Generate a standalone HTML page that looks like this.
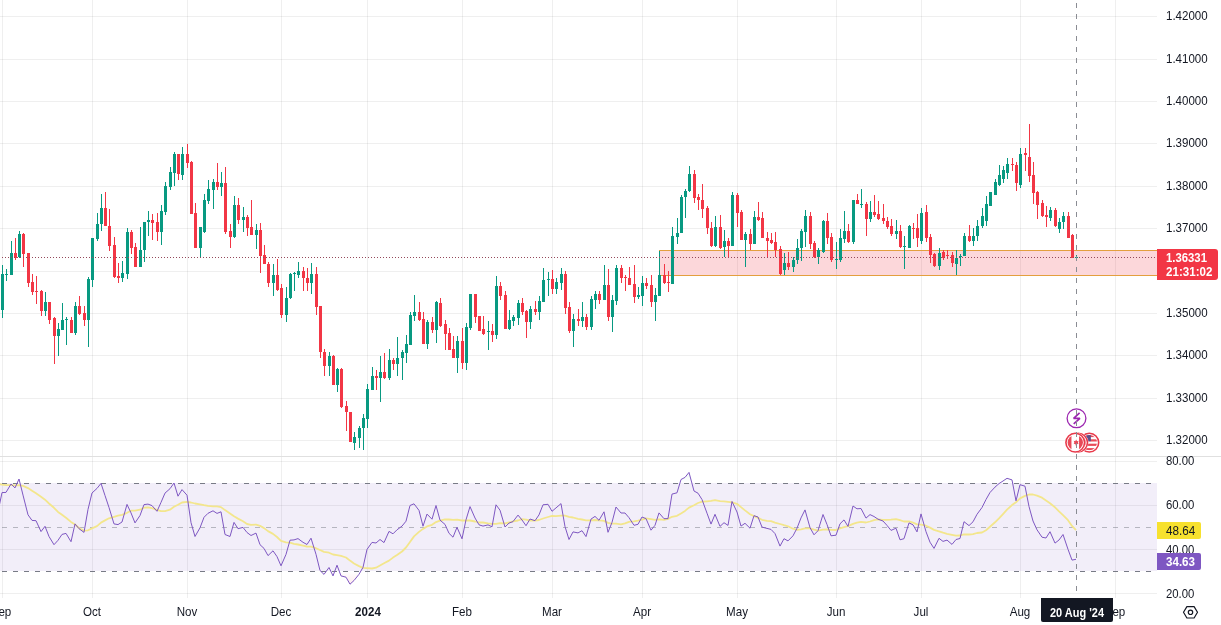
<!DOCTYPE html>
<html><head><meta charset="utf-8"><style>
html,body{margin:0;padding:0;background:#fff;}
#c{position:relative;width:1221px;height:625px;overflow:hidden;font-family:"Liberation Sans", Arial, sans-serif;}
#c svg{position:absolute;left:0;top:0;}
.t{position:absolute;white-space:nowrap;}
.w{color:#ffffff !important;}
.lab{position:absolute;}
.tl{position:absolute;top:604px;width:60px;text-align:center;font-size:11.5px;line-height:16px;color:#131722;white-space:nowrap;}
.b{font-weight:bold;}
</style></head><body><div id="c">
<svg width="1221" height="625" viewBox="0 0 1221 625" shape-rendering="crispEdges"><rect width="1221" height="625" fill="#ffffff"/><rect x="2" y="0" width="1" height="598" fill="rgba(0,0,0,0.062)"/><rect x="92" y="0" width="1" height="598" fill="rgba(0,0,0,0.062)"/><rect x="187" y="0" width="1" height="598" fill="rgba(0,0,0,0.062)"/><rect x="281" y="0" width="1" height="598" fill="rgba(0,0,0,0.062)"/><rect x="367" y="0" width="1" height="598" fill="rgba(0,0,0,0.062)"/><rect x="462" y="0" width="1" height="598" fill="rgba(0,0,0,0.062)"/><rect x="552" y="0" width="1" height="598" fill="rgba(0,0,0,0.062)"/><rect x="642" y="0" width="1" height="598" fill="rgba(0,0,0,0.062)"/><rect x="737" y="0" width="1" height="598" fill="rgba(0,0,0,0.062)"/><rect x="836" y="0" width="1" height="598" fill="rgba(0,0,0,0.062)"/><rect x="921" y="0" width="1" height="598" fill="rgba(0,0,0,0.062)"/><rect x="1020" y="0" width="1" height="598" fill="rgba(0,0,0,0.062)"/><rect x="1115" y="0" width="1" height="598" fill="rgba(0,0,0,0.062)"/><rect x="0" y="16" width="1157" height="1" fill="rgba(0,0,0,0.062)"/><rect x="0" y="59" width="1157" height="1" fill="rgba(0,0,0,0.062)"/><rect x="0" y="101" width="1157" height="1" fill="rgba(0,0,0,0.062)"/><rect x="0" y="143" width="1157" height="1" fill="rgba(0,0,0,0.062)"/><rect x="0" y="186" width="1157" height="1" fill="rgba(0,0,0,0.062)"/><rect x="0" y="228" width="1157" height="1" fill="rgba(0,0,0,0.062)"/><rect x="0" y="271" width="659" height="1" fill="rgba(0,0,0,0.062)"/><rect x="0" y="313" width="1157" height="1" fill="rgba(0,0,0,0.062)"/><rect x="0" y="355" width="1157" height="1" fill="rgba(0,0,0,0.062)"/><rect x="0" y="398" width="1157" height="1" fill="rgba(0,0,0,0.062)"/><rect x="0" y="440" width="1157" height="1" fill="rgba(0,0,0,0.062)"/><rect x="0" y="461" width="1157" height="1" fill="rgba(0,0,0,0.062)"/><rect x="0" y="505" width="1157" height="1" fill="rgba(0,0,0,0.062)"/><rect x="0" y="549" width="1157" height="1" fill="rgba(0,0,0,0.062)"/><rect x="0" y="593" width="1157" height="1" fill="rgba(0,0,0,0.062)"/><rect x="0" y="483" width="1157" height="88" fill="#7e57c2" fill-opacity="0.1"/><line x1="2" y1="483.5" x2="1157" y2="483.5" stroke="#787b86" stroke-opacity="1" stroke-width="1" stroke-dasharray="5 6"/><line x1="2" y1="527.5" x2="1157" y2="527.5" stroke="#787b86" stroke-opacity="0.5" stroke-width="1" stroke-dasharray="5 6"/><line x1="2" y1="571.5" x2="1157" y2="571.5" stroke="#787b86" stroke-opacity="1" stroke-width="1" stroke-dasharray="5 6"/><rect x="659.5" y="250.5" width="497.5" height="24.7" fill="#f23645" fill-opacity="0.2" stroke="#e39f3e" stroke-width="1"/><rect x="2" y="265" width="1" height="53" fill="#089981"/><rect x="1" y="274" width="3" height="36" fill="#089981"/><rect x="6" y="269" width="1" height="12" fill="#089981"/><rect x="5" y="274" width="3" height="1" fill="#089981"/><rect x="11" y="241" width="1" height="34" fill="#089981"/><rect x="10" y="253" width="3" height="22" fill="#089981"/><rect x="15" y="238" width="1" height="22" fill="#f23645"/><rect x="14" y="253" width="3" height="5" fill="#f23645"/><rect x="19" y="231" width="1" height="27" fill="#089981"/><rect x="18" y="234" width="3" height="23" fill="#089981"/><rect x="23" y="233" width="1" height="34" fill="#f23645"/><rect x="22" y="234" width="3" height="20" fill="#f23645"/><rect x="28" y="253" width="1" height="34" fill="#f23645"/><rect x="27" y="253" width="3" height="30" fill="#f23645"/><rect x="32" y="274" width="1" height="21" fill="#f23645"/><rect x="31" y="282" width="3" height="10" fill="#f23645"/><rect x="36" y="276" width="1" height="28" fill="#f23645"/><rect x="35" y="291" width="3" height="1" fill="#f23645"/><rect x="41" y="290" width="1" height="26" fill="#f23645"/><rect x="40" y="291" width="3" height="20" fill="#f23645"/><rect x="45" y="292" width="1" height="24" fill="#089981"/><rect x="44" y="302" width="3" height="9" fill="#089981"/><rect x="49" y="302" width="1" height="22" fill="#f23645"/><rect x="48" y="302" width="3" height="18" fill="#f23645"/><rect x="54" y="317" width="1" height="47" fill="#f23645"/><rect x="53" y="318" width="3" height="18" fill="#f23645"/><rect x="58" y="323" width="1" height="33" fill="#089981"/><rect x="57" y="329" width="3" height="7" fill="#089981"/><rect x="62" y="303" width="1" height="27" fill="#089981"/><rect x="61" y="320" width="3" height="10" fill="#089981"/><rect x="66" y="317" width="1" height="28" fill="#089981"/><rect x="65" y="319" width="3" height="1" fill="#089981"/><rect x="71" y="317" width="1" height="16" fill="#f23645"/><rect x="70" y="320" width="3" height="13" fill="#f23645"/><rect x="75" y="302" width="1" height="33" fill="#089981"/><rect x="74" y="306" width="3" height="27" fill="#089981"/><rect x="79" y="296" width="1" height="19" fill="#f23645"/><rect x="78" y="306" width="3" height="8" fill="#f23645"/><rect x="84" y="306" width="1" height="20" fill="#f23645"/><rect x="83" y="313" width="3" height="7" fill="#f23645"/><rect x="88" y="277" width="1" height="70" fill="#089981"/><rect x="87" y="279" width="3" height="41" fill="#089981"/><rect x="92" y="238" width="1" height="49" fill="#089981"/><rect x="91" y="238" width="3" height="42" fill="#089981"/><rect x="97" y="213" width="1" height="28" fill="#089981"/><rect x="96" y="224" width="3" height="15" fill="#089981"/><rect x="101" y="194" width="1" height="37" fill="#089981"/><rect x="100" y="208" width="3" height="16" fill="#089981"/><rect x="105" y="192" width="1" height="34" fill="#f23645"/><rect x="104" y="208" width="3" height="18" fill="#f23645"/><rect x="109" y="209" width="1" height="42" fill="#f23645"/><rect x="108" y="226" width="3" height="20" fill="#f23645"/><rect x="114" y="237" width="1" height="41" fill="#f23645"/><rect x="113" y="245" width="3" height="32" fill="#f23645"/><rect x="118" y="263" width="1" height="20" fill="#f23645"/><rect x="117" y="276" width="3" height="2" fill="#f23645"/><rect x="122" y="261" width="1" height="21" fill="#089981"/><rect x="121" y="273" width="3" height="5" fill="#089981"/><rect x="127" y="228" width="1" height="51" fill="#089981"/><rect x="126" y="232" width="3" height="42" fill="#089981"/><rect x="131" y="230" width="1" height="24" fill="#f23645"/><rect x="130" y="232" width="3" height="16" fill="#f23645"/><rect x="135" y="243" width="1" height="24" fill="#f23645"/><rect x="134" y="247" width="3" height="20" fill="#f23645"/><rect x="140" y="227" width="1" height="40" fill="#089981"/><rect x="139" y="250" width="3" height="17" fill="#089981"/><rect x="144" y="222" width="1" height="40" fill="#089981"/><rect x="143" y="222" width="3" height="28" fill="#089981"/><rect x="148" y="211" width="1" height="25" fill="#089981"/><rect x="147" y="220" width="3" height="2" fill="#089981"/><rect x="152" y="214" width="1" height="26" fill="#f23645"/><rect x="151" y="220" width="3" height="3" fill="#f23645"/><rect x="157" y="213" width="1" height="28" fill="#f23645"/><rect x="156" y="222" width="3" height="10" fill="#f23645"/><rect x="161" y="205" width="1" height="40" fill="#089981"/><rect x="160" y="211" width="3" height="21" fill="#089981"/><rect x="165" y="182" width="1" height="33" fill="#089981"/><rect x="164" y="186" width="3" height="26" fill="#089981"/><rect x="170" y="167" width="1" height="23" fill="#089981"/><rect x="169" y="172" width="3" height="15" fill="#089981"/><rect x="174" y="152" width="1" height="34" fill="#089981"/><rect x="173" y="154" width="3" height="19" fill="#089981"/><rect x="178" y="154" width="1" height="26" fill="#f23645"/><rect x="177" y="154" width="3" height="20" fill="#f23645"/><rect x="182" y="147" width="1" height="33" fill="#089981"/><rect x="181" y="154" width="3" height="21" fill="#089981"/><rect x="187" y="144" width="1" height="24" fill="#f23645"/><rect x="186" y="154" width="3" height="9" fill="#f23645"/><rect x="191" y="161" width="1" height="53" fill="#f23645"/><rect x="190" y="162" width="3" height="52" fill="#f23645"/><rect x="195" y="203" width="1" height="45" fill="#f23645"/><rect x="194" y="213" width="3" height="35" fill="#f23645"/><rect x="200" y="227" width="1" height="30" fill="#089981"/><rect x="199" y="227" width="3" height="21" fill="#089981"/><rect x="204" y="194" width="1" height="39" fill="#089981"/><rect x="203" y="200" width="3" height="32" fill="#089981"/><rect x="208" y="180" width="1" height="24" fill="#089981"/><rect x="207" y="189" width="3" height="12" fill="#089981"/><rect x="213" y="179" width="1" height="30" fill="#089981"/><rect x="212" y="182" width="3" height="8" fill="#089981"/><rect x="217" y="163" width="1" height="27" fill="#f23645"/><rect x="216" y="182" width="3" height="5" fill="#f23645"/><rect x="221" y="172" width="1" height="24" fill="#089981"/><rect x="220" y="183" width="3" height="4" fill="#089981"/><rect x="225" y="167" width="1" height="67" fill="#f23645"/><rect x="224" y="183" width="3" height="49" fill="#f23645"/><rect x="230" y="224" width="1" height="24" fill="#f23645"/><rect x="229" y="231" width="3" height="6" fill="#f23645"/><rect x="234" y="196" width="1" height="42" fill="#089981"/><rect x="233" y="205" width="3" height="32" fill="#089981"/><rect x="238" y="198" width="1" height="26" fill="#f23645"/><rect x="237" y="205" width="3" height="15" fill="#f23645"/><rect x="243" y="207" width="1" height="25" fill="#089981"/><rect x="242" y="217" width="3" height="3" fill="#089981"/><rect x="247" y="215" width="1" height="21" fill="#f23645"/><rect x="246" y="217" width="3" height="11" fill="#f23645"/><rect x="251" y="200" width="1" height="35" fill="#f23645"/><rect x="250" y="227" width="3" height="8" fill="#f23645"/><rect x="256" y="224" width="1" height="25" fill="#089981"/><rect x="255" y="230" width="3" height="5" fill="#089981"/><rect x="260" y="223" width="1" height="50" fill="#f23645"/><rect x="259" y="230" width="3" height="26" fill="#f23645"/><rect x="264" y="245" width="1" height="19" fill="#f23645"/><rect x="263" y="255" width="3" height="9" fill="#f23645"/><rect x="268" y="262" width="1" height="25" fill="#f23645"/><rect x="267" y="264" width="3" height="19" fill="#f23645"/><rect x="273" y="264" width="1" height="32" fill="#089981"/><rect x="272" y="275" width="3" height="8" fill="#089981"/><rect x="277" y="259" width="1" height="32" fill="#f23645"/><rect x="276" y="275" width="3" height="15" fill="#f23645"/><rect x="281" y="284" width="1" height="34" fill="#f23645"/><rect x="280" y="288" width="3" height="27" fill="#f23645"/><rect x="286" y="287" width="1" height="35" fill="#089981"/><rect x="285" y="298" width="3" height="17" fill="#089981"/><rect x="290" y="273" width="1" height="26" fill="#089981"/><rect x="289" y="274" width="3" height="24" fill="#089981"/><rect x="294" y="272" width="1" height="19" fill="#089981"/><rect x="293" y="273" width="3" height="1" fill="#089981"/><rect x="298" y="262" width="1" height="16" fill="#089981"/><rect x="297" y="271" width="3" height="4" fill="#089981"/><rect x="303" y="267" width="1" height="24" fill="#f23645"/><rect x="302" y="271" width="3" height="7" fill="#f23645"/><rect x="307" y="268" width="1" height="23" fill="#f23645"/><rect x="306" y="278" width="3" height="5" fill="#f23645"/><rect x="311" y="263" width="1" height="31" fill="#089981"/><rect x="310" y="274" width="3" height="9" fill="#089981"/><rect x="316" y="267" width="1" height="48" fill="#f23645"/><rect x="315" y="274" width="3" height="33" fill="#f23645"/><rect x="320" y="306" width="1" height="52" fill="#f23645"/><rect x="319" y="306" width="3" height="46" fill="#f23645"/><rect x="324" y="349" width="1" height="27" fill="#f23645"/><rect x="323" y="352" width="3" height="14" fill="#f23645"/><rect x="329" y="352" width="1" height="24" fill="#089981"/><rect x="328" y="356" width="3" height="10" fill="#089981"/><rect x="333" y="355" width="1" height="30" fill="#f23645"/><rect x="332" y="356" width="3" height="29" fill="#f23645"/><rect x="337" y="368" width="1" height="24" fill="#089981"/><rect x="336" y="369" width="3" height="16" fill="#089981"/><rect x="341" y="368" width="1" height="40" fill="#f23645"/><rect x="340" y="369" width="3" height="38" fill="#f23645"/><rect x="346" y="401" width="1" height="30" fill="#f23645"/><rect x="345" y="406" width="3" height="6" fill="#f23645"/><rect x="350" y="412" width="1" height="30" fill="#f23645"/><rect x="349" y="412" width="3" height="30" fill="#f23645"/><rect x="354" y="432" width="1" height="18" fill="#089981"/><rect x="353" y="437" width="3" height="6" fill="#089981"/><rect x="359" y="426" width="1" height="22" fill="#089981"/><rect x="358" y="428" width="3" height="10" fill="#089981"/><rect x="363" y="414" width="1" height="36" fill="#089981"/><rect x="362" y="418" width="3" height="10" fill="#089981"/><rect x="367" y="384" width="1" height="44" fill="#089981"/><rect x="366" y="389" width="3" height="30" fill="#089981"/><rect x="372" y="367" width="1" height="23" fill="#089981"/><rect x="371" y="376" width="3" height="14" fill="#089981"/><rect x="376" y="370" width="1" height="20" fill="#f23645"/><rect x="375" y="376" width="3" height="2" fill="#f23645"/><rect x="380" y="356" width="1" height="46" fill="#089981"/><rect x="379" y="372" width="3" height="6" fill="#089981"/><rect x="384" y="353" width="1" height="26" fill="#f23645"/><rect x="383" y="372" width="3" height="6" fill="#f23645"/><rect x="389" y="349" width="1" height="31" fill="#089981"/><rect x="388" y="360" width="3" height="18" fill="#089981"/><rect x="393" y="358" width="1" height="12" fill="#f23645"/><rect x="392" y="360" width="3" height="4" fill="#f23645"/><rect x="397" y="337" width="1" height="39" fill="#089981"/><rect x="396" y="358" width="3" height="6" fill="#089981"/><rect x="402" y="350" width="1" height="30" fill="#089981"/><rect x="401" y="352" width="3" height="6" fill="#089981"/><rect x="406" y="335" width="1" height="28" fill="#089981"/><rect x="405" y="344" width="3" height="9" fill="#089981"/><rect x="410" y="312" width="1" height="33" fill="#089981"/><rect x="409" y="315" width="3" height="30" fill="#089981"/><rect x="414" y="295" width="1" height="26" fill="#089981"/><rect x="413" y="312" width="3" height="4" fill="#089981"/><rect x="419" y="302" width="1" height="19" fill="#f23645"/><rect x="418" y="312" width="3" height="8" fill="#f23645"/><rect x="423" y="312" width="1" height="32" fill="#f23645"/><rect x="422" y="319" width="3" height="25" fill="#f23645"/><rect x="427" y="320" width="1" height="29" fill="#089981"/><rect x="426" y="322" width="3" height="22" fill="#089981"/><rect x="432" y="317" width="1" height="16" fill="#f23645"/><rect x="431" y="322" width="3" height="8" fill="#f23645"/><rect x="436" y="301" width="1" height="42" fill="#089981"/><rect x="435" y="302" width="3" height="28" fill="#089981"/><rect x="440" y="298" width="1" height="29" fill="#f23645"/><rect x="439" y="303" width="3" height="23" fill="#f23645"/><rect x="445" y="320" width="1" height="30" fill="#f23645"/><rect x="444" y="324" width="3" height="10" fill="#f23645"/><rect x="449" y="328" width="1" height="22" fill="#f23645"/><rect x="448" y="333" width="3" height="17" fill="#f23645"/><rect x="453" y="336" width="1" height="22" fill="#f23645"/><rect x="452" y="349" width="3" height="9" fill="#f23645"/><rect x="457" y="336" width="1" height="37" fill="#089981"/><rect x="456" y="341" width="3" height="17" fill="#089981"/><rect x="462" y="328" width="1" height="41" fill="#f23645"/><rect x="461" y="341" width="3" height="22" fill="#f23645"/><rect x="466" y="323" width="1" height="47" fill="#089981"/><rect x="465" y="327" width="3" height="36" fill="#089981"/><rect x="470" y="294" width="1" height="36" fill="#089981"/><rect x="469" y="294" width="3" height="34" fill="#089981"/><rect x="475" y="294" width="1" height="29" fill="#f23645"/><rect x="474" y="294" width="3" height="23" fill="#f23645"/><rect x="479" y="316" width="1" height="15" fill="#f23645"/><rect x="478" y="316" width="3" height="15" fill="#f23645"/><rect x="483" y="316" width="1" height="19" fill="#f23645"/><rect x="482" y="329" width="3" height="5" fill="#f23645"/><rect x="488" y="321" width="1" height="29" fill="#089981"/><rect x="487" y="331" width="3" height="1" fill="#089981"/><rect x="492" y="324" width="1" height="18" fill="#f23645"/><rect x="491" y="331" width="3" height="4" fill="#f23645"/><rect x="496" y="276" width="1" height="63" fill="#089981"/><rect x="495" y="286" width="3" height="49" fill="#089981"/><rect x="500" y="282" width="1" height="18" fill="#f23645"/><rect x="499" y="286" width="3" height="10" fill="#f23645"/><rect x="505" y="291" width="1" height="38" fill="#f23645"/><rect x="504" y="295" width="3" height="34" fill="#f23645"/><rect x="509" y="310" width="1" height="20" fill="#089981"/><rect x="508" y="320" width="3" height="9" fill="#089981"/><rect x="513" y="315" width="1" height="11" fill="#089981"/><rect x="512" y="317" width="3" height="4" fill="#089981"/><rect x="518" y="300" width="1" height="25" fill="#089981"/><rect x="517" y="303" width="3" height="15" fill="#089981"/><rect x="522" y="298" width="1" height="17" fill="#f23645"/><rect x="521" y="303" width="3" height="9" fill="#f23645"/><rect x="526" y="310" width="1" height="28" fill="#f23645"/><rect x="525" y="311" width="3" height="11" fill="#f23645"/><rect x="530" y="306" width="1" height="23" fill="#089981"/><rect x="529" y="309" width="3" height="13" fill="#089981"/><rect x="535" y="301" width="1" height="14" fill="#f23645"/><rect x="534" y="309" width="3" height="3" fill="#f23645"/><rect x="539" y="296" width="1" height="24" fill="#089981"/><rect x="538" y="301" width="3" height="11" fill="#089981"/><rect x="543" y="268" width="1" height="34" fill="#089981"/><rect x="542" y="280" width="3" height="22" fill="#089981"/><rect x="548" y="272" width="1" height="24" fill="#089981"/><rect x="547" y="279" width="3" height="1" fill="#089981"/><rect x="552" y="270" width="1" height="24" fill="#f23645"/><rect x="551" y="279" width="3" height="10" fill="#f23645"/><rect x="556" y="278" width="1" height="16" fill="#089981"/><rect x="555" y="282" width="3" height="7" fill="#089981"/><rect x="561" y="268" width="1" height="22" fill="#089981"/><rect x="560" y="274" width="3" height="9" fill="#089981"/><rect x="565" y="271" width="1" height="43" fill="#f23645"/><rect x="564" y="274" width="3" height="34" fill="#f23645"/><rect x="569" y="302" width="1" height="31" fill="#f23645"/><rect x="568" y="307" width="3" height="24" fill="#f23645"/><rect x="573" y="314" width="1" height="33" fill="#089981"/><rect x="572" y="319" width="3" height="12" fill="#089981"/><rect x="578" y="309" width="1" height="17" fill="#f23645"/><rect x="577" y="319" width="3" height="2" fill="#f23645"/><rect x="582" y="302" width="1" height="25" fill="#089981"/><rect x="581" y="317" width="3" height="4" fill="#089981"/><rect x="586" y="314" width="1" height="16" fill="#f23645"/><rect x="585" y="317" width="3" height="10" fill="#f23645"/><rect x="591" y="296" width="1" height="34" fill="#089981"/><rect x="590" y="299" width="3" height="28" fill="#089981"/><rect x="595" y="291" width="1" height="18" fill="#089981"/><rect x="594" y="294" width="3" height="6" fill="#089981"/><rect x="599" y="291" width="1" height="13" fill="#f23645"/><rect x="598" y="294" width="3" height="6" fill="#f23645"/><rect x="604" y="265" width="1" height="35" fill="#089981"/><rect x="603" y="285" width="3" height="15" fill="#089981"/><rect x="608" y="269" width="1" height="52" fill="#f23645"/><rect x="607" y="285" width="3" height="32" fill="#f23645"/><rect x="612" y="295" width="1" height="37" fill="#089981"/><rect x="611" y="300" width="3" height="17" fill="#089981"/><rect x="616" y="265" width="1" height="40" fill="#089981"/><rect x="615" y="268" width="3" height="33" fill="#089981"/><rect x="621" y="265" width="1" height="18" fill="#f23645"/><rect x="620" y="268" width="3" height="10" fill="#f23645"/><rect x="625" y="275" width="1" height="16" fill="#f23645"/><rect x="624" y="277" width="3" height="1" fill="#f23645"/><rect x="629" y="267" width="1" height="18" fill="#f23645"/><rect x="628" y="278" width="3" height="7" fill="#f23645"/><rect x="634" y="265" width="1" height="38" fill="#f23645"/><rect x="633" y="284" width="3" height="13" fill="#f23645"/><rect x="638" y="287" width="1" height="12" fill="#089981"/><rect x="637" y="295" width="3" height="2" fill="#089981"/><rect x="642" y="276" width="1" height="30" fill="#089981"/><rect x="641" y="283" width="3" height="13" fill="#089981"/><rect x="646" y="278" width="1" height="11" fill="#f23645"/><rect x="645" y="283" width="3" height="3" fill="#f23645"/><rect x="651" y="275" width="1" height="32" fill="#f23645"/><rect x="650" y="285" width="3" height="17" fill="#f23645"/><rect x="655" y="288" width="1" height="33" fill="#089981"/><rect x="654" y="295" width="3" height="7" fill="#089981"/><rect x="659" y="251" width="1" height="45" fill="#089981"/><rect x="658" y="275" width="3" height="21" fill="#089981"/><rect x="664" y="264" width="1" height="20" fill="#f23645"/><rect x="663" y="275" width="3" height="8" fill="#f23645"/><rect x="668" y="271" width="1" height="21" fill="#f23645"/><rect x="667" y="282" width="3" height="1" fill="#f23645"/><rect x="672" y="227" width="1" height="57" fill="#089981"/><rect x="671" y="236" width="3" height="48" fill="#089981"/><rect x="677" y="218" width="1" height="26" fill="#089981"/><rect x="676" y="233" width="3" height="4" fill="#089981"/><rect x="681" y="195" width="1" height="38" fill="#089981"/><rect x="680" y="197" width="3" height="36" fill="#089981"/><rect x="685" y="189" width="1" height="29" fill="#089981"/><rect x="684" y="191" width="3" height="6" fill="#089981"/><rect x="689" y="166" width="1" height="26" fill="#089981"/><rect x="688" y="174" width="3" height="17" fill="#089981"/><rect x="694" y="170" width="1" height="33" fill="#f23645"/><rect x="693" y="174" width="3" height="24" fill="#f23645"/><rect x="698" y="194" width="1" height="16" fill="#f23645"/><rect x="697" y="197" width="3" height="3" fill="#f23645"/><rect x="702" y="184" width="1" height="34" fill="#f23645"/><rect x="701" y="200" width="3" height="9" fill="#f23645"/><rect x="707" y="206" width="1" height="28" fill="#f23645"/><rect x="706" y="208" width="3" height="20" fill="#f23645"/><rect x="711" y="222" width="1" height="25" fill="#f23645"/><rect x="710" y="228" width="3" height="18" fill="#f23645"/><rect x="715" y="216" width="1" height="31" fill="#089981"/><rect x="714" y="227" width="3" height="19" fill="#089981"/><rect x="720" y="215" width="1" height="34" fill="#f23645"/><rect x="719" y="227" width="3" height="21" fill="#f23645"/><rect x="724" y="230" width="1" height="27" fill="#089981"/><rect x="723" y="241" width="3" height="6" fill="#089981"/><rect x="728" y="238" width="1" height="20" fill="#f23645"/><rect x="727" y="241" width="3" height="5" fill="#f23645"/><rect x="732" y="192" width="1" height="54" fill="#089981"/><rect x="731" y="195" width="3" height="51" fill="#089981"/><rect x="737" y="193" width="1" height="34" fill="#f23645"/><rect x="736" y="195" width="3" height="18" fill="#f23645"/><rect x="741" y="210" width="1" height="30" fill="#f23645"/><rect x="740" y="212" width="3" height="28" fill="#f23645"/><rect x="745" y="232" width="1" height="35" fill="#089981"/><rect x="744" y="234" width="3" height="6" fill="#089981"/><rect x="750" y="229" width="1" height="21" fill="#f23645"/><rect x="749" y="234" width="3" height="10" fill="#f23645"/><rect x="754" y="211" width="1" height="33" fill="#089981"/><rect x="753" y="217" width="3" height="27" fill="#089981"/><rect x="758" y="202" width="1" height="19" fill="#f23645"/><rect x="757" y="217" width="3" height="3" fill="#f23645"/><rect x="762" y="212" width="1" height="26" fill="#f23645"/><rect x="761" y="218" width="3" height="20" fill="#f23645"/><rect x="767" y="232" width="1" height="26" fill="#f23645"/><rect x="766" y="238" width="3" height="3" fill="#f23645"/><rect x="771" y="233" width="1" height="11" fill="#f23645"/><rect x="770" y="240" width="3" height="3" fill="#f23645"/><rect x="775" y="232" width="1" height="25" fill="#f23645"/><rect x="774" y="242" width="3" height="8" fill="#f23645"/><rect x="780" y="246" width="1" height="29" fill="#f23645"/><rect x="779" y="249" width="3" height="25" fill="#f23645"/><rect x="784" y="253" width="1" height="22" fill="#089981"/><rect x="783" y="263" width="3" height="7" fill="#089981"/><rect x="788" y="252" width="1" height="18" fill="#f23645"/><rect x="787" y="263" width="3" height="4" fill="#f23645"/><rect x="793" y="257" width="1" height="15" fill="#089981"/><rect x="792" y="260" width="3" height="7" fill="#089981"/><rect x="797" y="239" width="1" height="25" fill="#089981"/><rect x="796" y="248" width="3" height="12" fill="#089981"/><rect x="801" y="229" width="1" height="32" fill="#089981"/><rect x="800" y="231" width="3" height="17" fill="#089981"/><rect x="805" y="210" width="1" height="37" fill="#089981"/><rect x="804" y="216" width="3" height="16" fill="#089981"/><rect x="810" y="212" width="1" height="37" fill="#f23645"/><rect x="809" y="216" width="3" height="28" fill="#f23645"/><rect x="814" y="241" width="1" height="17" fill="#f23645"/><rect x="813" y="243" width="3" height="14" fill="#f23645"/><rect x="818" y="248" width="1" height="16" fill="#089981"/><rect x="817" y="250" width="3" height="7" fill="#089981"/><rect x="823" y="220" width="1" height="33" fill="#089981"/><rect x="822" y="221" width="3" height="31" fill="#089981"/><rect x="827" y="213" width="1" height="31" fill="#f23645"/><rect x="826" y="221" width="3" height="17" fill="#f23645"/><rect x="831" y="233" width="1" height="29" fill="#f23645"/><rect x="830" y="237" width="3" height="23" fill="#f23645"/><rect x="836" y="242" width="1" height="27" fill="#089981"/><rect x="835" y="259" width="3" height="1" fill="#089981"/><rect x="840" y="229" width="1" height="33" fill="#089981"/><rect x="839" y="238" width="3" height="22" fill="#089981"/><rect x="844" y="211" width="1" height="32" fill="#089981"/><rect x="843" y="231" width="3" height="8" fill="#089981"/><rect x="848" y="224" width="1" height="19" fill="#f23645"/><rect x="847" y="231" width="3" height="11" fill="#f23645"/><rect x="853" y="200" width="1" height="44" fill="#089981"/><rect x="852" y="200" width="3" height="42" fill="#089981"/><rect x="857" y="194" width="1" height="10" fill="#f23645"/><rect x="856" y="200" width="3" height="4" fill="#f23645"/><rect x="861" y="189" width="1" height="19" fill="#089981"/><rect x="860" y="204" width="3" height="1" fill="#089981"/><rect x="866" y="202" width="1" height="34" fill="#f23645"/><rect x="865" y="204" width="3" height="15" fill="#f23645"/><rect x="870" y="201" width="1" height="21" fill="#089981"/><rect x="869" y="212" width="3" height="7" fill="#089981"/><rect x="874" y="195" width="1" height="22" fill="#f23645"/><rect x="873" y="212" width="3" height="3" fill="#f23645"/><rect x="878" y="201" width="1" height="19" fill="#f23645"/><rect x="877" y="214" width="3" height="5" fill="#f23645"/><rect x="883" y="204" width="1" height="20" fill="#f23645"/><rect x="882" y="218" width="3" height="3" fill="#f23645"/><rect x="887" y="217" width="1" height="12" fill="#f23645"/><rect x="886" y="221" width="3" height="6" fill="#f23645"/><rect x="891" y="219" width="1" height="17" fill="#f23645"/><rect x="890" y="226" width="3" height="8" fill="#f23645"/><rect x="896" y="220" width="1" height="19" fill="#089981"/><rect x="895" y="231" width="3" height="3" fill="#089981"/><rect x="900" y="225" width="1" height="23" fill="#f23645"/><rect x="899" y="231" width="3" height="16" fill="#f23645"/><rect x="904" y="236" width="1" height="33" fill="#089981"/><rect x="903" y="246" width="3" height="1" fill="#089981"/><rect x="909" y="225" width="1" height="23" fill="#089981"/><rect x="908" y="226" width="3" height="22" fill="#089981"/><rect x="913" y="223" width="1" height="16" fill="#f23645"/><rect x="912" y="228" width="3" height="1" fill="#f23645"/><rect x="917" y="214" width="1" height="33" fill="#f23645"/><rect x="916" y="228" width="3" height="10" fill="#f23645"/><rect x="921" y="208" width="1" height="36" fill="#089981"/><rect x="920" y="213" width="3" height="28" fill="#089981"/><rect x="926" y="205" width="1" height="37" fill="#f23645"/><rect x="925" y="212" width="3" height="26" fill="#f23645"/><rect x="930" y="234" width="1" height="29" fill="#f23645"/><rect x="929" y="237" width="3" height="18" fill="#f23645"/><rect x="934" y="253" width="1" height="14" fill="#f23645"/><rect x="933" y="254" width="3" height="12" fill="#f23645"/><rect x="939" y="248" width="1" height="22" fill="#089981"/><rect x="938" y="253" width="3" height="13" fill="#089981"/><rect x="943" y="250" width="1" height="10" fill="#f23645"/><rect x="942" y="252" width="3" height="6" fill="#f23645"/><rect x="947" y="250" width="1" height="9" fill="#f23645"/><rect x="946" y="255" width="3" height="1" fill="#f23645"/><rect x="952" y="252" width="1" height="15" fill="#f23645"/><rect x="951" y="255" width="3" height="8" fill="#f23645"/><rect x="956" y="250" width="1" height="25" fill="#089981"/><rect x="955" y="258" width="3" height="6" fill="#089981"/><rect x="960" y="254" width="1" height="12" fill="#089981"/><rect x="959" y="256" width="3" height="1" fill="#089981"/><rect x="964" y="233" width="1" height="23" fill="#089981"/><rect x="963" y="236" width="3" height="20" fill="#089981"/><rect x="969" y="225" width="1" height="17" fill="#f23645"/><rect x="968" y="236" width="3" height="5" fill="#f23645"/><rect x="973" y="228" width="1" height="18" fill="#089981"/><rect x="972" y="236" width="3" height="5" fill="#089981"/><rect x="977" y="220" width="1" height="21" fill="#089981"/><rect x="976" y="226" width="3" height="10" fill="#089981"/><rect x="982" y="208" width="1" height="20" fill="#089981"/><rect x="981" y="216" width="3" height="10" fill="#089981"/><rect x="986" y="196" width="1" height="30" fill="#089981"/><rect x="985" y="204" width="3" height="17" fill="#089981"/><rect x="990" y="192" width="1" height="14" fill="#089981"/><rect x="989" y="192" width="3" height="14" fill="#089981"/><rect x="995" y="179" width="1" height="16" fill="#089981"/><rect x="994" y="182" width="3" height="13" fill="#089981"/><rect x="999" y="165" width="1" height="21" fill="#089981"/><rect x="998" y="175" width="3" height="10" fill="#089981"/><rect x="1003" y="166" width="1" height="17" fill="#089981"/><rect x="1002" y="170" width="3" height="9" fill="#089981"/><rect x="1007" y="158" width="1" height="21" fill="#089981"/><rect x="1006" y="164" width="3" height="9" fill="#089981"/><rect x="1012" y="158" width="1" height="13" fill="#f23645"/><rect x="1011" y="164" width="3" height="1" fill="#f23645"/><rect x="1016" y="162" width="1" height="29" fill="#f23645"/><rect x="1015" y="165" width="3" height="18" fill="#f23645"/><rect x="1020" y="148" width="1" height="40" fill="#089981"/><rect x="1019" y="154" width="3" height="31" fill="#089981"/><rect x="1025" y="148" width="1" height="23" fill="#f23645"/><rect x="1024" y="153" width="3" height="2" fill="#f23645"/><rect x="1029" y="124" width="1" height="58" fill="#f23645"/><rect x="1028" y="157" width="3" height="19" fill="#f23645"/><rect x="1033" y="162" width="1" height="42" fill="#f23645"/><rect x="1032" y="175" width="3" height="18" fill="#f23645"/><rect x="1037" y="191" width="1" height="28" fill="#f23645"/><rect x="1036" y="192" width="3" height="13" fill="#f23645"/><rect x="1042" y="200" width="1" height="17" fill="#f23645"/><rect x="1041" y="203" width="3" height="13" fill="#f23645"/><rect x="1046" y="206" width="1" height="21" fill="#f23645"/><rect x="1045" y="215" width="3" height="2" fill="#f23645"/><rect x="1050" y="207" width="1" height="14" fill="#089981"/><rect x="1049" y="210" width="3" height="8" fill="#089981"/><rect x="1055" y="208" width="1" height="19" fill="#f23645"/><rect x="1054" y="210" width="3" height="16" fill="#f23645"/><rect x="1059" y="218" width="1" height="15" fill="#089981"/><rect x="1058" y="222" width="3" height="7" fill="#089981"/><rect x="1063" y="212" width="1" height="17" fill="#089981"/><rect x="1062" y="216" width="3" height="6" fill="#089981"/><rect x="1068" y="212" width="1" height="26" fill="#f23645"/><rect x="1067" y="216" width="3" height="22" fill="#f23645"/><rect x="1072" y="234" width="1" height="24" fill="#f23645"/><rect x="1071" y="235" width="3" height="23" fill="#f23645"/><rect x="1076" y="255" width="1" height="3" fill="#089981"/><rect x="1075" y="257" width="3" height="1" fill="#089981"/><line x1="2" y1="257.5" x2="1157" y2="257.5" stroke="#94485a" stroke-width="1" stroke-dasharray="1 2"/><defs><linearGradient id="ob" gradientUnits="userSpaceOnUse" x1="0" y1="483.3" x2="0" y2="395.4"><stop offset="0" stop-color="#089981" stop-opacity="0"/><stop offset="1" stop-color="#089981" stop-opacity="0.5"/></linearGradient><linearGradient id="os" gradientUnits="userSpaceOnUse" x1="0" y1="571.2" x2="0" y2="637.1"><stop offset="0" stop-color="#f23645" stop-opacity="0"/><stop offset="1" stop-color="#f23645" stop-opacity="0.5"/></linearGradient><clipPath id="cob"><rect x="0" y="0" width="1157" height="483.3"/></clipPath><clipPath id="cos"><rect x="0" y="571.2" width="1157" height="60"/></clipPath></defs><polygon points="-2,483.3 -2.0,511.8 2.0,492.6 6.0,492.4 11.0,484.0 15.0,487.9 19.0,479.0 23.0,495.1 28.0,514.8 32.0,520.4 36.0,520.7 41.0,531.6 45.0,526.3 49.0,536.5 54.0,544.7 58.0,540.3 62.0,534.4 66.0,533.4 71.0,541.7 75.0,523.9 79.0,528.7 84.0,532.4 88.0,509.4 92.0,493.0 97.0,488.4 101.0,483.4 105.0,495.5 109.0,507.5 114.0,523.9 118.0,524.6 122.0,522.0 127.0,504.4 131.0,512.9 135.0,522.9 140.0,515.5 144.0,504.6 148.0,504.1 152.0,505.6 157.0,511.3 161.0,502.4 165.0,493.1 170.0,488.7 174.0,483.0 178.0,496.2 182.0,489.6 187.0,495.2 191.0,522.6 195.0,536.5 200.0,527.8 204.0,517.3 208.0,513.3 213.0,510.8 217.0,513.4 221.0,511.8 225.0,534.5 230.0,536.5 234.0,522.4 238.0,528.7 243.0,527.4 247.0,532.5 251.0,535.5 256.0,533.1 260.0,544.7 264.0,548.4 268.0,555.6 273.0,550.8 277.0,556.6 281.0,565.8 286.0,554.4 290.0,540.2 294.0,539.9 298.0,538.6 303.0,542.3 307.0,544.5 311.0,538.2 316.0,554.3 320.0,570.5 324.0,574.4 329.0,567.5 333.0,575.9 337.0,565.2 341.0,575.9 346.0,577.2 350.0,584.2 354.0,580.5 359.0,574.3 363.0,567.4 367.0,549.4 372.0,542.4 376.0,543.0 380.0,539.5 384.0,542.6 389.0,531.4 393.0,533.8 397.0,529.8 402.0,526.1 406.0,521.2 410.0,505.5 414.0,503.8 419.0,510.4 423.0,526.2 427.0,514.1 432.0,519.2 436.0,505.5 440.0,520.1 445.0,524.4 449.0,533.3 453.0,537.2 457.0,527.3 462.0,538.8 466.0,519.8 470.0,506.6 475.0,518.0 479.0,524.8 483.0,526.1 488.0,524.9 492.0,526.8 496.0,504.8 500.0,510.2 505.0,527.0 509.0,523.1 513.0,521.6 518.0,515.1 522.0,520.0 526.0,525.7 530.0,519.0 535.0,520.7 539.0,514.9 543.0,504.8 548.0,504.3 552.0,511.3 556.0,507.9 561.0,503.6 565.0,526.6 569.0,539.5 573.0,531.9 578.0,532.9 582.0,530.7 586.0,536.6 591.0,519.1 595.0,516.4 599.0,520.3 604.0,511.8 608.0,532.3 612.0,522.4 616.0,507.0 621.0,513.0 625.0,513.0 629.0,517.7 634.0,525.3 638.0,524.3 642.0,517.0 646.0,518.6 651.0,530.2 655.0,525.3 659.0,512.9 664.0,518.7 668.0,518.6 672.0,494.1 677.0,492.8 681.0,479.5 685.0,477.4 689.0,472.4 694.0,491.0 698.0,493.2 702.0,499.5 707.0,513.2 711.0,524.1 715.0,514.3 720.0,526.4 724.0,522.7 728.0,525.4 732.0,501.5 737.0,512.0 741.0,526.1 745.0,523.3 750.0,528.2 754.0,515.7 758.0,517.0 762.0,527.1 767.0,528.4 771.0,529.4 775.0,533.6 780.0,546.1 784.0,538.7 788.0,540.9 793.0,535.8 797.0,528.2 801.0,517.9 805.0,509.9 810.0,527.6 814.0,534.8 818.0,530.7 823.0,514.5 827.0,524.5 831.0,535.8 836.0,535.2 840.0,523.8 844.0,519.9 848.0,526.4 853.0,506.0 857.0,508.8 861.0,508.5 866.0,518.1 870.0,514.6 874.0,516.5 878.0,519.2 883.0,521.0 887.0,525.4 891.0,530.4 896.0,528.2 900.0,539.8 904.0,538.7 909.0,522.9 913.0,524.8 917.0,531.9 921.0,513.9 926.0,531.7 930.0,542.2 934.0,548.4 939.0,538.3 943.0,541.4 947.0,540.1 952.0,544.4 956.0,539.5 960.0,538.5 964.0,521.7 969.0,525.6 973.0,521.8 977.0,514.3 982.0,507.5 986.0,499.5 990.0,492.5 995.0,487.1 999.0,483.6 1003.0,481.0 1007.0,478.3 1012.0,479.9 1016.0,500.8 1020.0,484.7 1025.0,486.2 1029.0,506.5 1033.0,521.0 1037.0,529.8 1042.0,537.2 1046.0,538.0 1050.0,531.7 1055.0,543.1 1059.0,540.0 1063.0,534.5 1068.0,549.3 1072.0,560.1 1076.0,559.3 1076,483.3" fill="url(#ob)" clip-path="url(#cob)" shape-rendering="auto"/><polygon points="-2,571.2 -2.0,511.8 2.0,492.6 6.0,492.4 11.0,484.0 15.0,487.9 19.0,479.0 23.0,495.1 28.0,514.8 32.0,520.4 36.0,520.7 41.0,531.6 45.0,526.3 49.0,536.5 54.0,544.7 58.0,540.3 62.0,534.4 66.0,533.4 71.0,541.7 75.0,523.9 79.0,528.7 84.0,532.4 88.0,509.4 92.0,493.0 97.0,488.4 101.0,483.4 105.0,495.5 109.0,507.5 114.0,523.9 118.0,524.6 122.0,522.0 127.0,504.4 131.0,512.9 135.0,522.9 140.0,515.5 144.0,504.6 148.0,504.1 152.0,505.6 157.0,511.3 161.0,502.4 165.0,493.1 170.0,488.7 174.0,483.0 178.0,496.2 182.0,489.6 187.0,495.2 191.0,522.6 195.0,536.5 200.0,527.8 204.0,517.3 208.0,513.3 213.0,510.8 217.0,513.4 221.0,511.8 225.0,534.5 230.0,536.5 234.0,522.4 238.0,528.7 243.0,527.4 247.0,532.5 251.0,535.5 256.0,533.1 260.0,544.7 264.0,548.4 268.0,555.6 273.0,550.8 277.0,556.6 281.0,565.8 286.0,554.4 290.0,540.2 294.0,539.9 298.0,538.6 303.0,542.3 307.0,544.5 311.0,538.2 316.0,554.3 320.0,570.5 324.0,574.4 329.0,567.5 333.0,575.9 337.0,565.2 341.0,575.9 346.0,577.2 350.0,584.2 354.0,580.5 359.0,574.3 363.0,567.4 367.0,549.4 372.0,542.4 376.0,543.0 380.0,539.5 384.0,542.6 389.0,531.4 393.0,533.8 397.0,529.8 402.0,526.1 406.0,521.2 410.0,505.5 414.0,503.8 419.0,510.4 423.0,526.2 427.0,514.1 432.0,519.2 436.0,505.5 440.0,520.1 445.0,524.4 449.0,533.3 453.0,537.2 457.0,527.3 462.0,538.8 466.0,519.8 470.0,506.6 475.0,518.0 479.0,524.8 483.0,526.1 488.0,524.9 492.0,526.8 496.0,504.8 500.0,510.2 505.0,527.0 509.0,523.1 513.0,521.6 518.0,515.1 522.0,520.0 526.0,525.7 530.0,519.0 535.0,520.7 539.0,514.9 543.0,504.8 548.0,504.3 552.0,511.3 556.0,507.9 561.0,503.6 565.0,526.6 569.0,539.5 573.0,531.9 578.0,532.9 582.0,530.7 586.0,536.6 591.0,519.1 595.0,516.4 599.0,520.3 604.0,511.8 608.0,532.3 612.0,522.4 616.0,507.0 621.0,513.0 625.0,513.0 629.0,517.7 634.0,525.3 638.0,524.3 642.0,517.0 646.0,518.6 651.0,530.2 655.0,525.3 659.0,512.9 664.0,518.7 668.0,518.6 672.0,494.1 677.0,492.8 681.0,479.5 685.0,477.4 689.0,472.4 694.0,491.0 698.0,493.2 702.0,499.5 707.0,513.2 711.0,524.1 715.0,514.3 720.0,526.4 724.0,522.7 728.0,525.4 732.0,501.5 737.0,512.0 741.0,526.1 745.0,523.3 750.0,528.2 754.0,515.7 758.0,517.0 762.0,527.1 767.0,528.4 771.0,529.4 775.0,533.6 780.0,546.1 784.0,538.7 788.0,540.9 793.0,535.8 797.0,528.2 801.0,517.9 805.0,509.9 810.0,527.6 814.0,534.8 818.0,530.7 823.0,514.5 827.0,524.5 831.0,535.8 836.0,535.2 840.0,523.8 844.0,519.9 848.0,526.4 853.0,506.0 857.0,508.8 861.0,508.5 866.0,518.1 870.0,514.6 874.0,516.5 878.0,519.2 883.0,521.0 887.0,525.4 891.0,530.4 896.0,528.2 900.0,539.8 904.0,538.7 909.0,522.9 913.0,524.8 917.0,531.9 921.0,513.9 926.0,531.7 930.0,542.2 934.0,548.4 939.0,538.3 943.0,541.4 947.0,540.1 952.0,544.4 956.0,539.5 960.0,538.5 964.0,521.7 969.0,525.6 973.0,521.8 977.0,514.3 982.0,507.5 986.0,499.5 990.0,492.5 995.0,487.1 999.0,483.6 1003.0,481.0 1007.0,478.3 1012.0,479.9 1016.0,500.8 1020.0,484.7 1025.0,486.2 1029.0,506.5 1033.0,521.0 1037.0,529.8 1042.0,537.2 1046.0,538.0 1050.0,531.7 1055.0,543.1 1059.0,540.0 1063.0,534.5 1068.0,549.3 1072.0,560.1 1076.0,559.3 1076,571.2" fill="url(#os)" clip-path="url(#cos)" shape-rendering="auto"/><polyline points="-2.0,483.9 2.0,484.6 6.0,485.2 11.0,485.2 15.0,485.4 19.0,485.1 23.0,485.9 28.0,488.1 32.0,490.7 36.0,493.3 41.0,496.7 45.0,499.7 49.0,503.5 54.0,507.8 58.0,511.9 62.0,514.8 66.0,517.8 71.0,521.9 75.0,524.5 79.0,528.0 84.0,530.7 88.0,530.3 92.0,528.4 97.0,526.1 101.0,522.6 105.0,520.4 109.0,518.3 114.0,516.9 118.0,515.7 122.0,514.9 127.0,512.8 131.0,510.7 135.0,510.6 140.0,509.7 144.0,507.7 148.0,507.3 152.0,508.2 157.0,509.9 161.0,511.2 165.0,511.1 170.0,509.7 174.0,506.8 178.0,504.8 182.0,502.5 187.0,501.8 191.0,502.5 195.0,503.5 200.0,504.3 204.0,505.2 208.0,505.9 213.0,506.3 217.0,506.4 221.0,507.1 225.0,510.1 230.0,513.5 234.0,516.3 238.0,518.6 243.0,521.3 247.0,524.0 251.0,524.9 256.0,524.6 260.0,525.8 264.0,528.1 268.0,531.1 273.0,533.9 277.0,537.0 281.0,540.9 286.0,542.3 290.0,542.6 294.0,543.8 298.0,544.5 303.0,545.6 307.0,546.5 311.0,546.7 316.0,548.2 320.0,550.0 324.0,551.9 329.0,552.7 333.0,554.5 337.0,555.1 341.0,555.8 346.0,557.5 350.0,560.6 354.0,563.5 359.0,566.1 363.0,567.9 367.0,568.2 372.0,568.5 376.0,567.7 380.0,565.5 384.0,563.2 389.0,560.6 393.0,557.6 397.0,555.1 402.0,551.5 406.0,547.5 410.0,541.9 414.0,536.4 419.0,531.9 423.0,528.9 427.0,526.4 432.0,524.8 436.0,522.1 440.0,520.7 445.0,519.4 449.0,519.5 453.0,519.8 457.0,519.6 462.0,520.5 466.0,520.4 470.0,520.5 475.0,521.5 479.0,522.5 483.0,522.5 488.0,523.3 492.0,523.8 496.0,523.8 500.0,523.1 505.0,523.3 509.0,522.5 513.0,521.4 518.0,520.5 522.0,519.2 526.0,519.6 530.0,520.5 535.0,520.7 539.0,520.0 543.0,518.5 548.0,517.0 552.0,515.9 556.0,516.1 561.0,515.6 565.0,515.6 569.0,516.8 573.0,517.5 578.0,518.8 582.0,519.5 586.0,520.3 591.0,520.3 595.0,520.0 599.0,520.4 604.0,520.9 608.0,522.9 612.0,523.7 616.0,523.6 621.0,524.3 625.0,523.3 629.0,521.8 634.0,521.3 638.0,520.7 642.0,519.7 646.0,518.4 651.0,519.2 655.0,519.9 659.0,519.3 664.0,519.8 668.0,518.9 672.0,516.8 677.0,515.8 681.0,513.4 685.0,510.9 689.0,507.6 694.0,505.2 698.0,503.0 702.0,501.7 707.0,501.3 711.0,500.9 715.0,500.1 720.0,501.1 724.0,501.4 728.0,501.9 732.0,502.4 737.0,503.8 741.0,507.1 745.0,510.4 750.0,514.3 754.0,516.1 758.0,517.8 762.0,519.8 767.0,520.9 771.0,521.2 775.0,522.6 780.0,524.0 784.0,525.2 788.0,526.3 793.0,528.7 797.0,529.9 801.0,529.3 805.0,528.3 810.0,528.3 814.0,529.7 818.0,530.6 823.0,529.7 827.0,529.5 831.0,529.9 836.0,530.0 840.0,528.4 844.0,527.1 848.0,526.1 853.0,523.9 857.0,522.6 861.0,521.9 866.0,522.5 870.0,521.5 874.0,520.2 878.0,519.4 883.0,519.9 887.0,519.9 891.0,519.6 896.0,519.1 900.0,520.2 904.0,521.5 909.0,521.3 913.0,522.6 917.0,524.3 921.0,524.7 926.0,525.7 930.0,527.6 934.0,529.9 939.0,531.3 943.0,532.7 947.0,533.8 952.0,534.8 956.0,535.6 960.0,535.5 964.0,534.3 969.0,534.5 973.0,534.2 977.0,533.0 982.0,532.5 986.0,530.2 990.0,526.7 995.0,522.3 999.0,518.4 1003.0,514.1 1007.0,509.7 1012.0,505.1 1016.0,502.3 1020.0,498.4 1025.0,495.9 1029.0,494.5 1033.0,494.5 1037.0,495.6 1042.0,497.7 1046.0,500.5 1050.0,503.3 1055.0,507.3 1059.0,511.3 1063.0,515.1 1068.0,520.2 1072.0,525.9 1076.0,530.1" fill="none" stroke="#f3e68c" stroke-width="1.8" stroke-linejoin="round" shape-rendering="auto"/><polyline points="-2.0,511.8 2.0,492.6 6.0,492.4 11.0,484.0 15.0,487.9 19.0,479.0 23.0,495.1 28.0,514.8 32.0,520.4 36.0,520.7 41.0,531.6 45.0,526.3 49.0,536.5 54.0,544.7 58.0,540.3 62.0,534.4 66.0,533.4 71.0,541.7 75.0,523.9 79.0,528.7 84.0,532.4 88.0,509.4 92.0,493.0 97.0,488.4 101.0,483.4 105.0,495.5 109.0,507.5 114.0,523.9 118.0,524.6 122.0,522.0 127.0,504.4 131.0,512.9 135.0,522.9 140.0,515.5 144.0,504.6 148.0,504.1 152.0,505.6 157.0,511.3 161.0,502.4 165.0,493.1 170.0,488.7 174.0,483.0 178.0,496.2 182.0,489.6 187.0,495.2 191.0,522.6 195.0,536.5 200.0,527.8 204.0,517.3 208.0,513.3 213.0,510.8 217.0,513.4 221.0,511.8 225.0,534.5 230.0,536.5 234.0,522.4 238.0,528.7 243.0,527.4 247.0,532.5 251.0,535.5 256.0,533.1 260.0,544.7 264.0,548.4 268.0,555.6 273.0,550.8 277.0,556.6 281.0,565.8 286.0,554.4 290.0,540.2 294.0,539.9 298.0,538.6 303.0,542.3 307.0,544.5 311.0,538.2 316.0,554.3 320.0,570.5 324.0,574.4 329.0,567.5 333.0,575.9 337.0,565.2 341.0,575.9 346.0,577.2 350.0,584.2 354.0,580.5 359.0,574.3 363.0,567.4 367.0,549.4 372.0,542.4 376.0,543.0 380.0,539.5 384.0,542.6 389.0,531.4 393.0,533.8 397.0,529.8 402.0,526.1 406.0,521.2 410.0,505.5 414.0,503.8 419.0,510.4 423.0,526.2 427.0,514.1 432.0,519.2 436.0,505.5 440.0,520.1 445.0,524.4 449.0,533.3 453.0,537.2 457.0,527.3 462.0,538.8 466.0,519.8 470.0,506.6 475.0,518.0 479.0,524.8 483.0,526.1 488.0,524.9 492.0,526.8 496.0,504.8 500.0,510.2 505.0,527.0 509.0,523.1 513.0,521.6 518.0,515.1 522.0,520.0 526.0,525.7 530.0,519.0 535.0,520.7 539.0,514.9 543.0,504.8 548.0,504.3 552.0,511.3 556.0,507.9 561.0,503.6 565.0,526.6 569.0,539.5 573.0,531.9 578.0,532.9 582.0,530.7 586.0,536.6 591.0,519.1 595.0,516.4 599.0,520.3 604.0,511.8 608.0,532.3 612.0,522.4 616.0,507.0 621.0,513.0 625.0,513.0 629.0,517.7 634.0,525.3 638.0,524.3 642.0,517.0 646.0,518.6 651.0,530.2 655.0,525.3 659.0,512.9 664.0,518.7 668.0,518.6 672.0,494.1 677.0,492.8 681.0,479.5 685.0,477.4 689.0,472.4 694.0,491.0 698.0,493.2 702.0,499.5 707.0,513.2 711.0,524.1 715.0,514.3 720.0,526.4 724.0,522.7 728.0,525.4 732.0,501.5 737.0,512.0 741.0,526.1 745.0,523.3 750.0,528.2 754.0,515.7 758.0,517.0 762.0,527.1 767.0,528.4 771.0,529.4 775.0,533.6 780.0,546.1 784.0,538.7 788.0,540.9 793.0,535.8 797.0,528.2 801.0,517.9 805.0,509.9 810.0,527.6 814.0,534.8 818.0,530.7 823.0,514.5 827.0,524.5 831.0,535.8 836.0,535.2 840.0,523.8 844.0,519.9 848.0,526.4 853.0,506.0 857.0,508.8 861.0,508.5 866.0,518.1 870.0,514.6 874.0,516.5 878.0,519.2 883.0,521.0 887.0,525.4 891.0,530.4 896.0,528.2 900.0,539.8 904.0,538.7 909.0,522.9 913.0,524.8 917.0,531.9 921.0,513.9 926.0,531.7 930.0,542.2 934.0,548.4 939.0,538.3 943.0,541.4 947.0,540.1 952.0,544.4 956.0,539.5 960.0,538.5 964.0,521.7 969.0,525.6 973.0,521.8 977.0,514.3 982.0,507.5 986.0,499.5 990.0,492.5 995.0,487.1 999.0,483.6 1003.0,481.0 1007.0,478.3 1012.0,479.9 1016.0,500.8 1020.0,484.7 1025.0,486.2 1029.0,506.5 1033.0,521.0 1037.0,529.8 1042.0,537.2 1046.0,538.0 1050.0,531.7 1055.0,543.1 1059.0,540.0 1063.0,534.5 1068.0,549.3 1072.0,560.1 1076.0,559.3" fill="none" stroke="#7e57c2" stroke-width="1" stroke-linejoin="round" shape-rendering="auto"/><rect x="0" y="456" width="1221" height="1" fill="#e0e0e0"/><g shape-rendering="auto"><circle cx="1076.5" cy="418.3" r="9.4" fill="none" stroke="#9c27b0" stroke-width="1.3"/><path d="M1079.6,412.9 L1073.6,418.3 L1079.9,418.3 L1073.7,423.9" fill="none" stroke="#9c27b0" stroke-width="1.7" stroke-linejoin="miter" stroke-miterlimit="2"/><defs><clipPath id="f1"><circle cx="1075.25" cy="442.6" r="7.7"/></clipPath><clipPath id="f3"><circle cx="1089.35" cy="442.6" r="7.7"/></clipPath><clipPath id="f2"><circle cx="1078.15" cy="442.6" r="7.7"/></clipPath></defs><circle cx="1089.35" cy="442.6" r="10.3" fill="#ffffff"/><circle cx="1089.35" cy="442.6" r="9.35" fill="none" stroke="#e83a4b" stroke-width="1.6"/><g clip-path="url(#f3)"><rect x="1081.35" y="434.90" width="16" height="2.2" fill="#e84a58"/><rect x="1081.35" y="439.30" width="16" height="2.2" fill="#e84a58"/><rect x="1081.35" y="443.70" width="16" height="2.2" fill="#e84a58"/><rect x="1081.35" y="448.10" width="16" height="2.2" fill="#e84a58"/><rect x="1081.35" y="434.6" width="9.5" height="6.6" fill="#5a4f8a"/></g><circle cx="1078.15" cy="442.6" r="10.3" fill="#ffffff"/><circle cx="1078.15" cy="442.6" r="9.35" fill="none" stroke="#e83a4b" stroke-width="1.6"/><g clip-path="url(#f2)"><rect x="1070.15" y="434.6" width="4.1" height="16" fill="#e84a58"/><rect x="1082.0500000000002" y="434.6" width="4.1" height="16" fill="#e84a58"/></g><circle cx="1075.25" cy="442.6" r="10.3" fill="#ffffff"/><circle cx="1075.25" cy="442.6" r="9.35" fill="none" stroke="#e83a4b" stroke-width="1.6"/><g clip-path="url(#f1)"><rect x="1067.25" y="434.6" width="4.2" height="16" fill="#e84a58"/><rect x="1079.05" y="434.6" width="4.2" height="16" fill="#e84a58"/></g><path d="M1076.15,439.6 L1077.0500000000002,441.3 L1078.5500000000002,440.70000000000005 L1077.95,443.0 L1078.75,443.40000000000003 L1076.5500000000002,444.5 L1076.5500000000002,445.8 L1075.75,445.8 L1075.75,444.5 L1073.5500000000002,443.40000000000003 L1074.3500000000001,443.0 L1073.75,440.70000000000005 L1075.25,441.3 Z" fill="#e84a58"/></g><g shape-rendering="geometricPrecision" fill="none" stroke="#131722" stroke-width="1.2"><path d="M1183.5,612.3 L1186.9,606.6 L1194.1,606.6 L1197.5,612.3 L1194.1,618.0 L1186.9,618.0 Z" stroke-linejoin="round"/><circle cx="1190.5" cy="612.3" r="2.2"/></g><line x1="1076.5" y1="3" x2="1076.5" y2="594" stroke="#8a8c93" stroke-width="1" stroke-dasharray="5 6"/></svg>
<div class="t" style="left:1166.30px;top:10.24px;font-size:12.6px;line-height:12.6px;transform:scaleX(0.915);transform-origin:0 0;color:#131722;">1.42000</div><div class="t" style="left:1166.30px;top:52.64px;font-size:12.6px;line-height:12.6px;transform:scaleX(0.915);transform-origin:0 0;color:#131722;">1.41000</div><div class="t" style="left:1166.30px;top:95.04px;font-size:12.6px;line-height:12.6px;transform:scaleX(0.915);transform-origin:0 0;color:#131722;">1.40000</div><div class="t" style="left:1166.30px;top:137.44px;font-size:12.6px;line-height:12.6px;transform:scaleX(0.915);transform-origin:0 0;color:#131722;">1.39000</div><div class="t" style="left:1166.30px;top:179.84px;font-size:12.6px;line-height:12.6px;transform:scaleX(0.915);transform-origin:0 0;color:#131722;">1.38000</div><div class="t" style="left:1166.30px;top:222.24px;font-size:12.6px;line-height:12.6px;transform:scaleX(0.915);transform-origin:0 0;color:#131722;">1.37000</div><div class="t" style="left:1166.30px;top:264.64px;font-size:12.6px;line-height:12.6px;transform:scaleX(0.915);transform-origin:0 0;color:#131722;">1.36000</div><div class="t" style="left:1166.30px;top:307.04px;font-size:12.6px;line-height:12.6px;transform:scaleX(0.915);transform-origin:0 0;color:#131722;">1.35000</div><div class="t" style="left:1166.30px;top:349.44px;font-size:12.6px;line-height:12.6px;transform:scaleX(0.915);transform-origin:0 0;color:#131722;">1.34000</div><div class="t" style="left:1166.30px;top:391.84px;font-size:12.6px;line-height:12.6px;transform:scaleX(0.915);transform-origin:0 0;color:#131722;">1.33000</div><div class="t" style="left:1166.30px;top:434.24px;font-size:12.6px;line-height:12.6px;transform:scaleX(0.915);transform-origin:0 0;color:#131722;">1.32000</div><div class="t" style="left:1166.30px;top:454.94px;font-size:12.6px;line-height:12.6px;transform:scaleX(0.9);transform-origin:0 0;color:#131722;">80.00</div><div class="t" style="left:1166.30px;top:498.59px;font-size:12.6px;line-height:12.6px;transform:scaleX(0.9);transform-origin:0 0;color:#131722;">60.00</div><div class="t" style="left:1166.30px;top:543.84px;font-size:12.6px;line-height:12.6px;transform:scaleX(0.9);transform-origin:0 0;color:#131722;">40.00</div><div class="t" style="left:1166.30px;top:587.99px;font-size:12.6px;line-height:12.6px;transform:scaleX(0.9);transform-origin:0 0;color:#131722;">20.00</div><div class="lab" style="left:1157px;top:249px;width:61px;height:30.5px;background:#f23645;border-radius:0 3px 3px 0;"></div><div class="t" style="left:1166.30px;top:252.14px;font-size:12.6px;line-height:12.6px;transform:scaleX(0.9);transform-origin:0 0;color:#ffffff;font-weight:bold;">1.36331</div><div class="t" style="left:1166.10px;top:266.14px;font-size:12.6px;line-height:12.6px;transform:scaleX(0.92);transform-origin:0 0;color:#ffffff;font-weight:bold;">21:31:02</div><div class="lab" style="left:1157px;top:522px;width:44px;height:16.5px;background:#f7e12e;border-radius:0 2px 2px 0;"></div><div class="t" style="left:1166.30px;top:525.14px;font-size:12.6px;line-height:12.6px;transform:scaleX(0.93);transform-origin:0 0;color:#131722;">48.64</div><div class="lab" style="left:1157px;top:553px;width:44px;height:16.6px;background:#7e57c2;border-radius:0 2px 2px 0;"></div><div class="t" style="left:1166.30px;top:556.14px;font-size:12.6px;line-height:12.6px;transform:scaleX(0.92);transform-origin:0 0;color:#ffffff;font-weight:bold;">34.63</div><div class="t" style="left:-59.10px;width:120px;text-align:center;top:606.04px;font-size:12.6px;line-height:12.6px;transform:scaleX(0.92);transform-origin:60px 0;color:#131722;">Sep</div><div class="t" style="left:32.00px;width:120px;text-align:center;top:606.04px;font-size:12.6px;line-height:12.6px;transform:scaleX(0.92);transform-origin:60px 0;color:#131722;">Oct</div><div class="t" style="left:126.60px;width:120px;text-align:center;top:606.04px;font-size:12.6px;line-height:12.6px;transform:scaleX(0.92);transform-origin:60px 0;color:#131722;">Nov</div><div class="t" style="left:221.40px;width:120px;text-align:center;top:606.04px;font-size:12.6px;line-height:12.6px;transform:scaleX(0.92);transform-origin:60px 0;color:#131722;">Dec</div><div class="t" style="left:307.50px;width:120px;text-align:center;top:606.04px;font-size:12.6px;line-height:12.6px;transform:scaleX(0.92);transform-origin:60px 0;color:#131722;font-weight:bold;">2024</div><div class="t" style="left:402.20px;width:120px;text-align:center;top:606.04px;font-size:12.6px;line-height:12.6px;transform:scaleX(0.92);transform-origin:60px 0;color:#131722;">Feb</div><div class="t" style="left:492.30px;width:120px;text-align:center;top:606.04px;font-size:12.6px;line-height:12.6px;transform:scaleX(0.92);transform-origin:60px 0;color:#131722;">Mar</div><div class="t" style="left:582.40px;width:120px;text-align:center;top:606.04px;font-size:12.6px;line-height:12.6px;transform:scaleX(0.92);transform-origin:60px 0;color:#131722;">Apr</div><div class="t" style="left:677.40px;width:120px;text-align:center;top:606.04px;font-size:12.6px;line-height:12.6px;transform:scaleX(0.92);transform-origin:60px 0;color:#131722;">May</div><div class="t" style="left:775.50px;width:120px;text-align:center;top:606.04px;font-size:12.6px;line-height:12.6px;transform:scaleX(0.92);transform-origin:60px 0;color:#131722;">Jun</div><div class="t" style="left:861.30px;width:120px;text-align:center;top:606.04px;font-size:12.6px;line-height:12.6px;transform:scaleX(0.92);transform-origin:60px 0;color:#131722;">Jul</div><div class="t" style="left:960.30px;width:120px;text-align:center;top:606.04px;font-size:12.6px;line-height:12.6px;transform:scaleX(0.92);transform-origin:60px 0;color:#131722;">Aug</div><div class="t" style="left:1055.30px;width:120px;text-align:center;top:606.04px;font-size:12.6px;line-height:12.6px;transform:scaleX(0.92);transform-origin:60px 0;color:#131722;">Sep</div><div class="lab" style="left:1041px;top:598.3px;width:71.7px;height:23.3px;background:#131722;border-radius:0 0 2px 2px;"></div><div class="t" style="left:1016.50px;width:120px;text-align:center;top:607.24px;font-size:12.6px;line-height:12.6px;transform:scaleX(0.87);transform-origin:60px 0;color:#ffffff;font-weight:bold;">20 Aug '24</div>

</div></body></html>
